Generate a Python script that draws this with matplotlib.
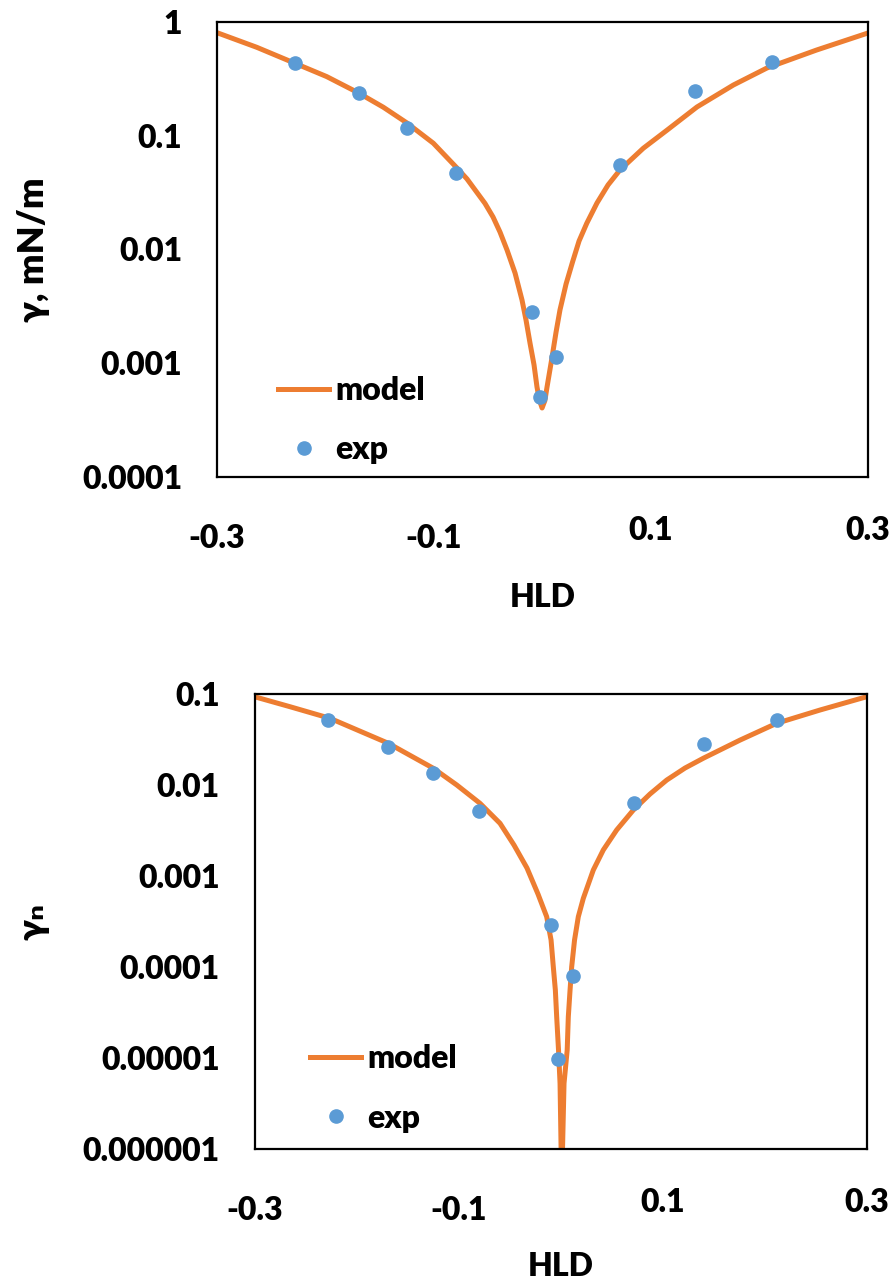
import numpy as np
import matplotlib
matplotlib.use("Agg")
import matplotlib.pyplot as plt
from matplotlib.ticker import NullLocator

plt.rcParams['font.family'] = ['Lato', 'DejaVu Sans']
plt.rcParams['font.weight'] = 'heavy'

# interfacial tension vs HLD, measured points
hld_exp = [-0.228, -0.169, -0.125, -0.080, -0.0094, -0.0023, 0.0122, 0.0714, 0.1405, 0.2119]
gamma_exp = [0.433, 0.236, 0.118, 0.0468, 0.00282, 0.000505, 0.00113, 0.0553, 0.249, 0.448]

# model curve (mN/m)
hld_model = [-0.300, -0.2634, -0.2281, -0.1989, -0.170, -0.1467, -0.1249, -0.1006, -0.0788,
             -0.0696, -0.0530, -0.0456, -0.0392, -0.0327, -0.0253, -0.0189, -0.0152, -0.0115,
             -0.0078, -0.0051, -0.0030, -0.0004, 0.0022, 0.0042, 0.0088, 0.0125, 0.0161,
             0.0217, 0.0277, 0.0337, 0.0408, 0.0502, 0.0604, 0.0714, 0.0929, 0.1148, 0.1424,
             0.1759, 0.2069, 0.2527, 0.300]
gamma_model = [0.805, 0.599, 0.433, 0.331, 0.239, 0.178, 0.1294, 0.0859, 0.052,
               0.0417, 0.0254, 0.0193, 0.01425, 0.0099, 0.00621, 0.0036, 0.0024, 0.0015,
               0.000966, 0.00062, 0.00048, 0.000404, 0.00047, 0.00062, 0.00113, 0.00188, 0.00294,
               0.00497, 0.00777, 0.01188, 0.0170, 0.0256, 0.0369, 0.050, 0.0776, 0.112, 0.179,
               0.279, 0.394, 0.567, 0.80]

# normalized tension, measured points
gn_exp = [0.0512, 0.0261, 0.0133, 0.00517, 0.000286, 9.8e-6, 7.9e-5, 0.00632, 0.0279, 0.0512]

# normalized tension, model curve
hld_model_n = [-0.300, -0.2652, -0.2260, -0.1689, -0.1248, -0.1019, -0.0791, -0.0595, -0.0458,
               -0.0331, -0.0223, -0.0138, -0.0095, -0.0073, -0.0053, -0.0040, -0.0022, -0.0007,
               0.0009, 0.0032, 0.0063, 0.0074, 0.0091, 0.0107, 0.0135, 0.0172, 0.0221, 0.0319,
               0.0417, 0.0548, 0.0711, 0.0874, 0.1038, 0.1217, 0.1396, 0.1756, 0.2115, 0.2540,
               0.2997]
gn_model = [0.0922, 0.0716, 0.0534, 0.0284, 0.0151, 0.00991, 0.00623, 0.00376, 0.00217,
            0.001215, 0.000629, 0.000355, 0.000197, 0.0001, 5.56e-5, 2.83e-5, 1.22e-5, 5.26e-6,
            4e-7, 5.26e-6, 1.22e-5, 2.83e-5, 5.56e-5, 0.0001, 0.000197, 0.000355, 0.000565, 0.001156,
            0.00192, 0.00318, 0.00526, 0.00788, 0.01122, 0.0152, 0.01946, 0.0308, 0.0471, 0.0659,
            0.0922]

x_ticks = [-0.3, -0.1, 0.1, 0.3]
x_ticklabels = ['-0.3', '-0.1', '0.1', '0.3']
y_ticks_top = [1e-4, 1e-3, 1e-2, 1e-1, 1]
y_labels_top = ['0.0001', '0.001', '0.01', '0.1', '1']
y_ticks_bot = [1e-6, 1e-5, 1e-4, 1e-3, 1e-2, 1e-1]
y_labels_bot = ['0.000001', '0.00001', '0.0001', '0.001', '0.01', '0.1']

ORANGE = '#ED7D31'
BLUE = '#5B9BD5'
FS = 23

fig = plt.figure(figsize=(8.95, 12.85), dpi=100)
ax1 = fig.add_axes([0.2425, 0.6288, 0.9698 - 0.2425, 0.9829 - 0.6288])
ax2 = fig.add_axes([0.2844, 0.1058, 0.9687 - 0.2844, 0.4603 - 0.1058])


def style_axes(ax, x, y, yticks, ylabels, ylabel, ylab_x, leg_anchor):
    ax.plot(x[0], y[0], color=ORANGE, lw=3.6, label='model', solid_joinstyle='round')
    ax.plot(x[1], y[1], 'o', color=BLUE, ms=9.5, label='exp', zorder=3)
    ax.set_yscale('log')
    ax.set_xlim(-0.3, 0.3)
    ax.set_ylim(yticks[0], yticks[-1])
    ax.set_yticks(yticks)
    ax.set_yticklabels(ylabels)
    ax.yaxis.set_minor_locator(NullLocator())
    ax.set_xticks(x_ticks)
    ax.set_xticklabels(x_ticklabels)
    ax.tick_params(length=0, labelsize=FS)
    ax.tick_params(axis='y', pad=25)
    ax.tick_params(axis='x', pad=28)
    # negative labels sit a little lower
    for tick, lab in zip(ax.xaxis.get_major_ticks(), x_ticklabels):
        if lab.startswith('-'):
            tick.set_pad(34)
    for s in ax.spines.values():
        s.set_linewidth(1.6)
        s.set_color('black')
    ax.set_xlabel('HLD', fontsize=FS, fontweight='heavy')
    ax.xaxis.label.set_va('center')
    ax.set_ylabel(ylabel, fontsize=FS + 3, fontweight='heavy')
    ax.yaxis.label.set_va('center')
    ax.yaxis.set_label_coords(ylab_x, 0.5)
    ax.legend(loc='upper left', bbox_to_anchor=leg_anchor, frameon=False, fontsize=FS,
              handlelength=1.6, handletextpad=0.2, labelspacing=0.95,
              borderpad=0, borderaxespad=0, numpoints=1)


style_axes(ax1, (hld_model, hld_exp), (gamma_model, gamma_exp), y_ticks_top, y_labels_top,
           'γ, mN/m', -0.2826, (0.0937, 0.222))
ax1.xaxis.set_label_coords(0.5, -(598 - 477) / 455)

style_axes(ax2, (hld_model_n, hld_exp), (gn_model, gn_exp), y_ticks_bot, y_labels_bot,
           'γₙ', -0.3616, (0.0906, 0.23))
ax2.xaxis.set_label_coords(0.5, -(1266 - 1149) / 455.5)

fig.savefig('out.png', dpi=100)
